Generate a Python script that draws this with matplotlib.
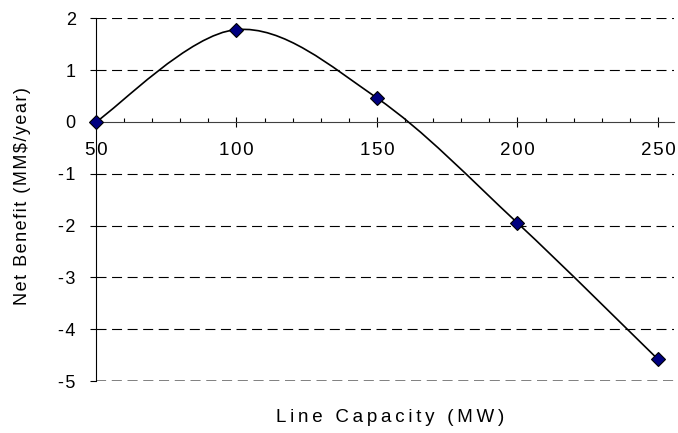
import matplotlib
matplotlib.use('Agg')
import matplotlib.pyplot as plt
from matplotlib.path import Path
from matplotlib.patches import PathPatch
from matplotlib.ticker import MultipleLocator, FuncFormatter

plt.rcParams['font.family'] = ['Liberation Sans', 'DejaVu Sans']
plt.rcParams['axes.unicode_minus'] = False

capacity = [50, 100, 150, 200, 250]
net_benefit = [0.0, 1.78, 0.46, -1.95, -4.58]
x_ticks = [50, 100, 150, 200, 250]
y_ticks = [-5, -4, -3, -2, -1, 0, 1, 2]

TS = '\u2009'  # thin space, imitates the wide letter spacing of the original
HS = '\u200a'  # hair space for the tick labels


def spaced(s, sep=TS):
    return sep.join(s)


def smooth_path(xs, ys):
    # Excel-like smoothed line: cubic Bezier segments with Catmull-Rom control points
    pts = list(zip(xs, ys))
    verts = [pts[0]]
    codes = [Path.MOVETO]
    n = len(pts)
    for i in range(n - 1):
        p0 = pts[i - 1] if i > 0 else pts[i]
        p1 = pts[i]
        p2 = pts[i + 1]
        p3 = pts[i + 2] if i + 2 < n else pts[i + 1]
        c1 = (p1[0] + (p2[0] - p0[0]) / 6, p1[1] + (p2[1] - p0[1]) / 6)
        c2 = (p2[0] - (p3[0] - p1[0]) / 6, p2[1] - (p3[1] - p1[1]) / 6)
        verts += [c1, c2, p2]
        codes += [Path.CURVE4] * 3
    return Path(verts, codes)


fig = plt.figure(figsize=(6.78, 4.33), dpi=100)
ax = fig.add_axes([0.1416, 0.120, 0.8524, 0.838])

ax.set_xlim(50, 255.7)
ax.set_ylim(-5, 2)

# dashed gridlines
for y in [2, 1, -1, -2, -3, -4]:
    ax.axhline(y, color='black', lw=0.8, dashes=(9, 5), zorder=1)
ax.axhline(-5, color='#808080', lw=1.4, dashes=(5.2, 2.9), zorder=1)

ax.add_patch(PathPatch(smooth_path(capacity, net_benefit), facecolor='none',
                       edgecolor='black', lw=1.2, zorder=3))
ax.plot(capacity, net_benefit, linestyle='none', marker='D', markersize=7,
        markerfacecolor='#000080', markeredgecolor='black', markeredgewidth=0.8,
        zorder=4, clip_on=False)

for s in ['top', 'right']:
    ax.spines[s].set_visible(False)
ax.spines['bottom'].set_position(('data', 0))
ax.spines['bottom'].set_color('#404040')
ax.spines['left'].set_color('black')

ax.set_xticks(x_ticks)
ax.xaxis.set_minor_locator(MultipleLocator(10))
ax.xaxis.set_major_formatter(FuncFormatter(lambda v, p: spaced('%d' % v, HS)))
ax.tick_params(axis='x', which='major', direction='inout', length=6.5, width=0.8,
               labelsize=13.5, pad=11)
ax.tick_params(axis='x', which='minor', direction='in', length=3, width=0.8)
ax.set_yticks(y_ticks)
ax.yaxis.set_major_formatter(FuncFormatter(lambda v, p: spaced('%d' % v, HS)))
ax.tick_params(axis='y', direction='out', length=4.5, width=0.8, labelsize=13, pad=10)

ax.set_xlabel(spaced('Line Capacity (MW)'), fontsize=13.5)
ax.xaxis.set_label_coords(0.509, -0.078)
ax.set_ylabel(spaced('Net Benefit (MM$/year)', HS), fontsize=13)
ax.yaxis.set_label_coords(-0.112, 0.51)

fig.savefig('out.png', dpi=100, facecolor='white')
